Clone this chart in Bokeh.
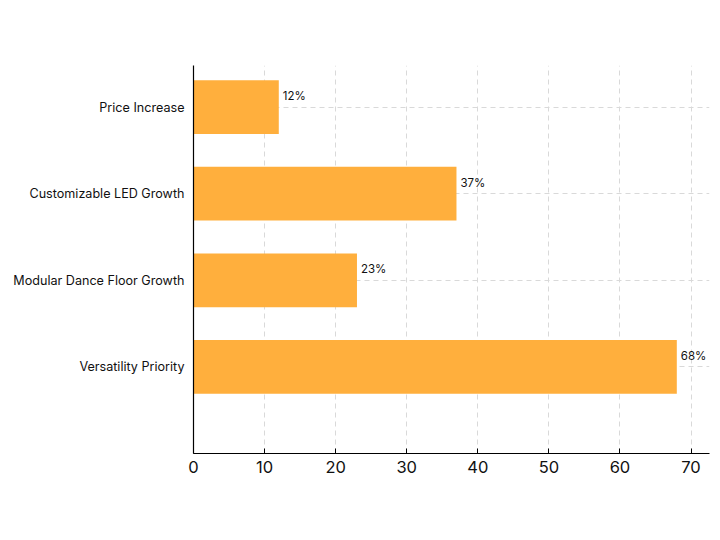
from bokeh.plotting import figure
from bokeh.models import ColumnDataSource, FixedTicker, LabelSet
from bokeh.core.properties import value
from bokeh.embed import file_html
from bokeh.resources import INLINE

categories = ["Price Increase", "Customizable LED Growth", "Modular Dance Floor Growth", "Versatility Priority"]
values = [12, 37, 23, 68]
x_ticks = [0, 10, 20, 30, 40, 50, 60, 70]

n = len(categories)
ypos = [n - 1 - i for i in range(n)]
labels = [f"{v}%" for v in values]

src = ColumnDataSource(dict(y=ypos, v=values, lab=labels))

p = figure(width=712, height=532, output_backend="svg", toolbar_location=None,
           x_range=(0, 72.6), y_range=(-1.0, n - 0.52),
           min_border_left=193, min_border_right=3, min_border_top=65, min_border_bottom=79)
p.outline_line_color = None
p.background_fill_color = "white"
p.border_fill_color = "white"

p.hbar(y="y", right="v", left=0, height=0.62, source=src, color="#FFAF3D", line_color=None)

lbl = LabelSet(x="v", y="y", text="lab", source=src, x_offset=4, y_offset=4,
               text_font=value("Inter"), text_font_size="11.5px", text_color="#111111",
               text_baseline="bottom", text_align="left")
p.add_layout(lbl)

p.xaxis.ticker = FixedTicker(ticks=x_ticks)
p.yaxis.ticker = FixedTicker(ticks=ypos)
p.yaxis.major_label_overrides = {y: c for y, c in zip(ypos, categories)}

for ax in (p.xaxis, p.yaxis):
    ax.axis_line_color = "black"
    ax.axis_line_width = 1.2
    ax.minor_tick_line_color = None
    ax.major_label_text_font = "Inter"
    ax.major_label_text_color = "#111111"

p.xaxis.major_tick_in = 5
p.xaxis.major_tick_out = 0
p.xaxis.major_tick_line_color = "black"
p.xaxis.major_label_text_font_size = "16.5px"
p.xaxis.major_label_standoff = 7
p.yaxis.major_tick_line_color = None
p.yaxis.major_tick_in = 0
p.yaxis.major_tick_out = 0
p.yaxis.major_label_text_font_size = "12.6px"
p.yaxis.major_label_standoff = 9

p.xgrid.grid_line_color = "#d9d9d9"
p.xgrid.grid_line_dash = "5 4"
p.ygrid.grid_line_color = "#d9d9d9"
p.ygrid.grid_line_dash = "5 4"
p.ygrid.ticker = FixedTicker(ticks=ypos)

open("out.html", "w").write(file_html(p, INLINE))
